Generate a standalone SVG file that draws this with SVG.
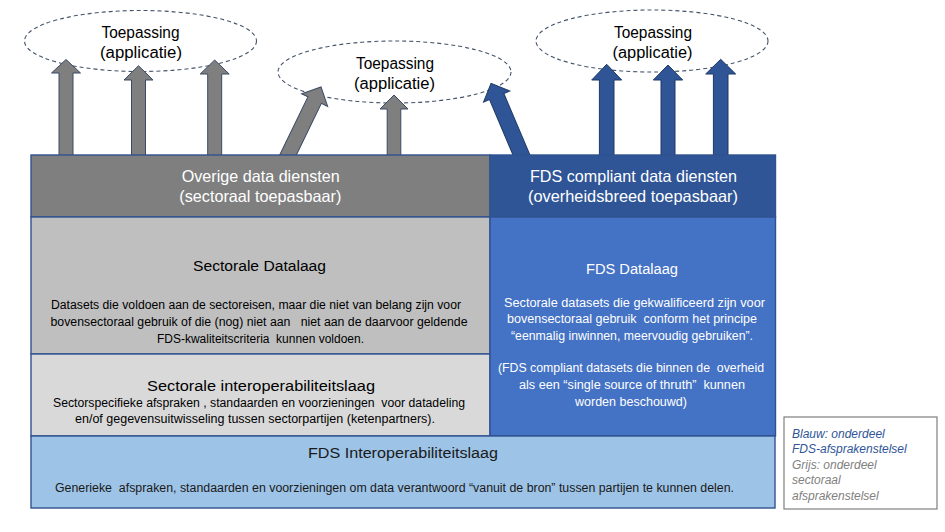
<svg xmlns="http://www.w3.org/2000/svg" width="945" height="532" viewBox="0 0 945 532" xml:space="preserve">
<style>
text{font-family:"Liberation Sans",Arial,sans-serif;white-space:pre}
.ell{fill:none;stroke:#44546A;stroke-width:1.1;stroke-dasharray:4 3}
.et{font-size:16px;fill:#000}
.box{stroke:#2F528F;stroke-width:1.4}
.wt{fill:#fff}
.bt{fill:#000}
.t16{font-size:16.5px}
.t155{font-size:15.5px}
.b{font-size:12px}
.ga{fill:#7F7F7F;stroke:#3A4A66;stroke-width:1}
.ba{fill:#2F5597;stroke:#1F3864;stroke-width:1}
.lg{font-size:12px;font-style:italic}
</style>
<rect width="945" height="532" fill="#fff"/>
<g id="app1"><ellipse class="ell" cx="140.5" cy="41" rx="116" ry="30.5"/>
<text class="et" x="101.5" y="37.5" textLength="78" lengthAdjust="spacingAndGlyphs">Toepassing</text>
<text class="et" x="100" y="57.5" textLength="82" lengthAdjust="spacingAndGlyphs">(applicatie)</text></g>
<g id="app2"><ellipse class="ell" cx="394.5" cy="72" rx="116.5" ry="31"/>
<text class="et" x="356" y="68.5" textLength="78" lengthAdjust="spacingAndGlyphs">Toepassing</text>
<text class="et" x="354" y="88.5" textLength="81" lengthAdjust="spacingAndGlyphs">(applicatie)</text></g>
<g id="app3"><ellipse class="ell" cx="652" cy="41" rx="116" ry="31"/>
<text class="et" x="614" y="37.5" textLength="78" lengthAdjust="spacingAndGlyphs">Toepassing</text>
<text class="et" x="612.5" y="58" textLength="80" lengthAdjust="spacingAndGlyphs">(applicatie)</text></g>
<g id="connectors">
<polygon class="ga" points="59,160 59,73 51.5,73 66,59.5 80.5,73 73,73 73,160"/>
<polygon class="ga" points="131.5,160 131.5,80 124,80 138.5,65.7 153,80 145.5,80 145.5,160"/>
<polygon class="ga" points="207.7,160 207.7,74 200.2,74 214.7,60 229.2,74 221.7,74 221.7,160"/>
<polygon class="ga" points="387.2,160 387.2,109 380,109 394,95 408,109 400.8,109 400.8,160"/>
<polygon class="ga" transform="translate(288,155) rotate(25.9)" points="-7.5,10 -7.5,-61 -14.5,-61 0,-75.6 14.5,-61 7.5,-61 7.5,10"/>
<polygon class="ba" transform="translate(521.5,155) rotate(-23)" points="-7.8,10 -7.8,-63.5 -14.3,-63.5 0,-77.9 14.3,-63.5 7.8,-63.5 7.8,10"/>
<polygon class="ba" points="599.4,160 599.4,80 591.7,80 606.7,64.3 621.7,80 614,80 614,160"/>
<polygon class="ba" points="661,160 661,80 653.3,80 668,65 682.7,80 675,80 675,160"/>
<polygon class="ba" points="713.4,160 713.4,74 705.7,74 720.7,59.3 735.7,74 728,74 728,160"/>
</g>
<g id="overige-diensten"><rect class="box" x="31" y="155" width="459" height="62" fill="#7F7F7F"/>
<text class="wt t16" x="181.7" y="181.5" textLength="158" lengthAdjust="spacingAndGlyphs">Overige data diensten</text>
<text class="wt t16" x="179.3" y="202" textLength="162" lengthAdjust="spacingAndGlyphs">(sectoraal toepasbaar)</text></g>
<g id="fds-diensten"><rect class="box" x="490" y="155" width="285.5" height="62" fill="#2F5597"/>
<text class="wt t16" x="530" y="181.5" textLength="207" lengthAdjust="spacingAndGlyphs">FDS compliant data diensten</text>
<text class="wt t16" x="528" y="202" textLength="210" lengthAdjust="spacingAndGlyphs">(overheidsbreed toepasbaar)</text></g>
<g id="sectorale-datalaag"><rect class="box" x="31" y="217" width="459" height="137" fill="#BFBFBF"/>
<text class="bt t155" x="193" y="270.5" textLength="133" lengthAdjust="spacingAndGlyphs">Sectorale Datalaag</text>
<text class="bt b" x="51" y="309" textLength="410" lengthAdjust="spacingAndGlyphs">Datasets die voldoen aan de sectoreisen, maar die niet van belang zijn voor</text>
<text class="bt b" x="50.5" y="326" textLength="417" lengthAdjust="spacingAndGlyphs">bovensectoraal gebruik of die (nog) niet aan   niet aan de daarvoor geldende</text>
<text class="bt b" x="157" y="343" textLength="207" lengthAdjust="spacingAndGlyphs">FDS-kwaliteitscriteria  kunnen voldoen.</text></g>
<g id="sectorale-interop"><rect class="box" x="31" y="354" width="459" height="82" fill="#D9D9D9"/>
<text class="bt t155" x="147" y="390.5" textLength="228" lengthAdjust="spacingAndGlyphs">Sectorale interoperabiliteitslaag</text>
<text class="bt b" x="53" y="407" textLength="412" lengthAdjust="spacingAndGlyphs">Sectorspecifieke afspraken , standaarden en voorzieningen  voor datadeling</text>
<text class="bt b" x="75" y="423" textLength="360" lengthAdjust="spacingAndGlyphs">en/of gegevensuitwisseling tussen sectorpartijen (ketenpartners).</text></g>
<g id="fds-datalaag"><rect class="box" x="490" y="217" width="285.5" height="219" fill="#4472C4"/>
<text class="wt t155" x="586" y="273.5" textLength="92" lengthAdjust="spacingAndGlyphs">FDS Datalaag</text>
<text class="wt b" x="504" y="307" textLength="261" lengthAdjust="spacingAndGlyphs">Sectorale datasets die gekwalificeerd zijn voor</text>
<text class="wt b" x="507" y="323" textLength="250" lengthAdjust="spacingAndGlyphs">bovensectoraal gebruik  conform het principe</text>
<text class="wt b" x="511" y="340" textLength="242" lengthAdjust="spacingAndGlyphs">“eenmalig inwinnen, meervoudig gebruiken”.</text>
<text class="wt b" x="498" y="372" textLength="266" lengthAdjust="spacingAndGlyphs">(FDS compliant datasets die binnen de  overheid</text>
<text class="wt b" x="519" y="389" textLength="226" lengthAdjust="spacingAndGlyphs">als een “single source of thruth”  kunnen</text>
<text class="wt b" x="575" y="406" textLength="112" lengthAdjust="spacingAndGlyphs">worden beschouwd)</text></g>
<g id="fds-interop"><rect class="box" x="31" y="436" width="744" height="72" fill="#9DC3E6"/>
<text class="t155" fill="#1a1a1a" x="308" y="457.5" textLength="190" lengthAdjust="spacingAndGlyphs">FDS Interoperabiliteitslaag</text>
<text fill="#1a1a1a" font-size="12" x="55" y="491.5" textLength="679" lengthAdjust="spacingAndGlyphs">Generieke  afspraken, standaarden en voorzieningen om data verantwoord “vanuit de bron” tussen partijen te kunnen delen.</text></g>
<g id="legend"><rect x="784" y="417" width="153" height="92" fill="#fff" stroke="#7F7F7F" stroke-width="1.2"/>
<text class="lg" fill="#2F5597" x="792" y="437.5">Blauw: onderdeel</text>
<text class="lg" fill="#2F5597" x="792" y="453">FDS-afsprakenstelsel</text>
<text class="lg" fill="#808080" x="792" y="468.5">Grijs: onderdeel</text>
<text class="lg" fill="#808080" x="792" y="484">sectoraal</text>
<text class="lg" fill="#808080" x="792" y="499.5">afsprakenstelsel</text></g>
</svg>
